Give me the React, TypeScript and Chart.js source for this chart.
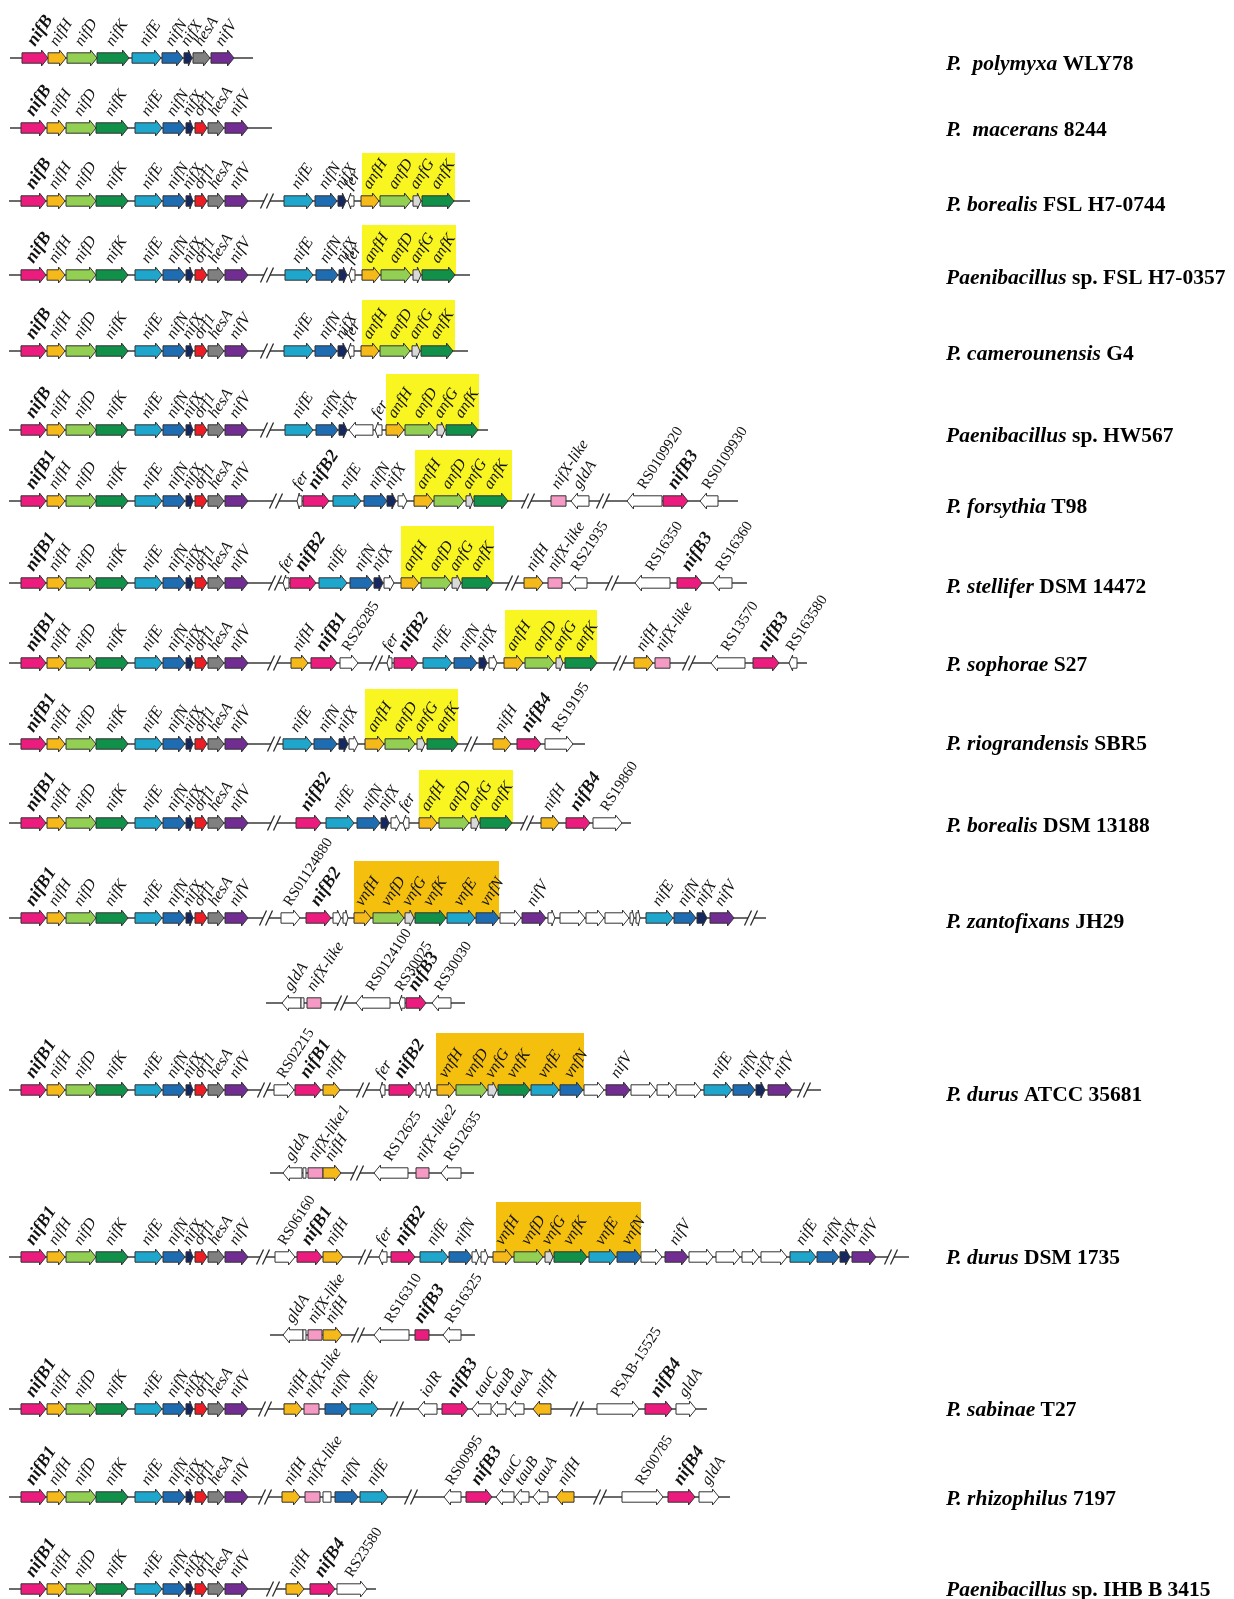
import React, { useEffect, useRef } from 'react';
import { Chart, registerables } from 'chart.js';

Chart.register(...registerables);

// [start, end, geneType, label, direction(1 right, -1 left, 0 box)]
type Gene = [number, number, string, string, number?];

const SERIF = '"Liberation Serif", "Times New Roman", serif';

const speciesNames = ['P.  polymyxa', 'P.  macerans', 'P. borealis', 'Paenibacillus', 'P. camerounensis', 'Paenibacillus', 'P. forsythia', 'P. stellifer', 'P. sophorae', 'P. riograndensis', 'P. borealis', 'P. zantofixans', 'P. durus', 'P. durus', 'P. sabinae', 'P. rhizophilus', 'Paenibacillus'];
const strainNames = [' WLY78', ' 8244', ' FSL H7-0744', ' sp. FSL H7-0357', ' G4', ' sp. HW567', ' T98', ' DSM 14472', ' S27', ' SBR5', ' DSM 13188', ' JH29', ' ATCC 35681', ' DSM 1735', ' T27', ' 7197', ' sp. IHB B 3415'];
const nameY = [64, 130, 205, 278, 354, 436, 507, 587, 665, 744, 826, 922, 1095, 1258, 1410, 1499, 1590];

const polymyxaGenes: Gene[] = [
  [22, 48, 'B', 'nifB'], [48, 66, 'H', 'nifH'], [67, 97, 'D', 'nifD'], [97, 129, 'K', 'nifK'],
  [132, 161, 'E', 'nifE'], [162, 183, 'N', 'nifN'], [184, 192, 'X', 'nifX'], [193, 210, 'A', 'hesA'], [211, 234, 'V', 'nifV'],
];
const coreGenes: Gene[] = [
  [21, 46, 'B', 'nifB'], [47, 65, 'H', 'nifH'], [66, 96, 'D', 'nifD'], [96, 128, 'K', 'nifK'],
  [135, 162, 'E', 'nifE'], [163, 185, 'N', 'nifN'], [186, 193, 'X', 'nifX'], [195, 207, 'O', 'orf1'],
  [208, 224, 'A', 'hesA'], [225, 248, 'V', 'nifV'],
];
const borealisFslGenes: Gene[] = [
  [284, 313, 'E', 'nifE'], [315, 337, 'N', 'nifN'], [338, 346, 'X', 'nifX'], [348, 354, 'W', 'fer', -1],
  [361, 379, 'H', 'anfH'], [380, 411, 'D', 'anfD'], [413, 421, 'G', 'anfG'], [422, 454, 'K', 'anfK'],
];
const fsl0357Genes: Gene[] = [
  [285, 313, 'E', 'nifE'], [316, 338, 'N', 'nifN'], [339, 347, 'X', 'nifX'], [349, 355, 'W', 'fer', -1],
  [362, 380, 'H', 'anfH'], [381, 411, 'D', 'anfD'], [413, 421, 'G', 'anfG'], [422, 455, 'K', 'anfK'],
];
const camerounGenes: Gene[] = [
  [284, 313, 'E', 'nifE'], [315, 337, 'N', 'nifN'], [338, 347, 'X', 'nifX'], [348, 354, 'W', 'fer', -1],
  [361, 379, 'H', 'anfH'], [380, 410, 'D', 'anfD'], [412, 420, 'G', 'anfG'], [421, 453, 'K', 'anfK'],
];
const hw567Genes: Gene[] = [
  [285, 313, 'E', 'nifE'], [316, 338, 'N', 'nifN'], [339, 347, 'X', 'nifX'], [349, 373, 'W', '', -1], [375, 382, 'W', 'fer', -1],
  [386, 404, 'H', 'anfH'], [405, 435, 'D', 'anfD'], [437, 445, 'G', 'anfG'], [446, 478, 'K', 'anfK'],
];
const forsythiaGenes: Gene[] = [
  [297, 302, 'W', 'fer', -1], [303, 329, 'B', 'nifB2'], [333, 361, 'E', 'nifE'], [364, 387, 'N', 'nifN'], [387, 396, 'X', 'nifX'], [398, 407, 'W', ''],
  [414, 433, 'H', 'anfH'], [434, 464, 'D', 'anfD'], [466, 473, 'G', 'anfG'], [474, 508, 'K', 'anfK'],
  [551, 566, 'L', 'nifX-like', 0], [571, 589, 'W', 'gldA', -1],
  [627, 662, 'W', 'RS0109920', -1], [663, 688, 'B', 'nifB3'], [700, 718, 'W', 'RS0109930', -1],
];
const stelliferGenes: Gene[] = [
  [283, 289, 'W', 'fer', -1], [290, 316, 'B', 'nifB2'], [319, 347, 'E', 'nifE'], [350, 373, 'N', 'nifN'], [374, 383, 'X', 'nifX'], [384, 394, 'W', ''],
  [401, 419, 'H', 'anfH'], [421, 451, 'D', 'anfD'], [452, 461, 'G', 'anfG'], [462, 493, 'K', 'anfK'],
  [524, 543, 'H', 'nifH'], [548, 562, 'L', 'nifX-like', 0], [569, 587, 'W', 'RS21935', -1],
  [635, 670, 'W', 'RS16350', -1], [677, 702, 'B', 'nifB3'], [713, 732, 'W', 'RS16360', -1],
];
const sophoraeGenes: Gene[] = [
  [291, 308, 'H', 'nifH'], [311, 337, 'B', 'nifB1'], [340, 358, 'W', 'RS26285'],
  [387, 392, 'W', 'fer', -1], [394, 418, 'B', 'nifB2'], [423, 452, 'E', 'nifE'], [454, 477, 'N', 'nifN'], [479, 487, 'X', 'nifX'], [489, 497, 'W', ''],
  [504, 523, 'H', 'anfH'], [525, 554, 'D', 'anfD'], [556, 563, 'G', 'anfG'], [565, 597, 'K', 'anfK'],
  [634, 653, 'H', 'nifH'], [655, 670, 'L', 'nifX-like', 0],
  [711, 745, 'W', 'RS13570', -1], [753, 779, 'B', 'nifB3'], [789, 797, 'W', 'RS163580', -1],
];
const riograndensisGenes: Gene[] = [
  [283, 312, 'E', 'nifE'], [314, 337, 'N', 'nifN'], [339, 348, 'X', 'nifX'], [349, 358, 'W', ''],
  [365, 384, 'H', 'anfH'], [385, 415, 'D', 'anfD'], [417, 425, 'G', 'anfG'], [427, 458, 'K', 'anfK'],
  [493, 511, 'H', 'nifH'], [517, 541, 'B', 'nifB4'], [545, 573, 'W', 'RS19195'],
];
const borealisDsmGenes: Gene[] = [
  [296, 321, 'B', 'nifB2'], [326, 354, 'E', 'nifE'], [357, 380, 'N', 'nifN'], [381, 389, 'X', 'nifX'], [391, 400, 'W', ''], [403, 409, 'W', 'fer', -1],
  [419, 437, 'H', 'anfH'], [439, 469, 'D', 'anfD'], [471, 479, 'G', 'anfG'], [480, 512, 'K', 'anfK'],
  [541, 559, 'H', 'nifH'], [566, 590, 'B', 'nifB4'], [593, 622, 'W', 'RS19860'],
];
const zantofixansGenes: Gene[] = [
  [281, 300, 'W', 'RS01124880'], [306, 331, 'B', 'nifB2'], [333, 341, 'W', ''], [343, 348, 'W', ''],
  [354, 371, 'H', 'vnfH'], [373, 404, 'D', 'vnfD'], [405, 414, 'G', 'vnfG'], [415, 446, 'K', 'vnfK'], [447, 475, 'E', 'vnfE'], [476, 499, 'N', 'vnfN'],
  [500, 521, 'W', ''], [522, 546, 'V', 'nifV'], [548, 555, 'W', ''], [560, 585, 'W', ''], [586, 604, 'W', ''], [605, 629, 'W', ''], [630, 634, 'W', ''], [636, 640, 'W', ''],
  [646, 673, 'E', 'nifE'], [674, 696, 'N', 'nifN'], [697, 707, 'X', 'nifX'], [710, 734, 'V', 'nifV'],
];
const zantofixansExtraGenes: Gene[] = [
  [282, 301, 'W', 'gldA', -1], [301, 304, 'W', '', 0], [307, 321, 'L', 'nifX-like', 0],
  [356, 390, 'W', 'RS0124100', -1], [399, 405, 'W', 'RS30025', -1], [406, 426, 'B', 'nifB3'], [432, 451, 'W', 'RS30030', -1],
];
const durusAtccGenes: Gene[] = [
  [274, 294, 'W', 'RS02215'], [295, 321, 'B', 'nifB1'], [323, 340, 'H', 'nifH'],
  [380, 385, 'W', 'fer', -1], [389, 415, 'B', 'nifB2'], [416, 423, 'W', ''], [426, 431, 'W', ''],
  [437, 455, 'H', 'vnfH'], [456, 487, 'D', 'vnfD'], [488, 497, 'G', 'vnfG'], [498, 530, 'K', 'vnfK'], [531, 559, 'E', 'vnfE'], [560, 583, 'N', 'vnfN'],
  [584, 604, 'W', ''], [606, 630, 'V', 'nifV'], [631, 656, 'W', ''], [657, 675, 'W', ''], [676, 701, 'W', ''],
  [704, 732, 'E', 'nifE'], [733, 755, 'N', 'nifN'], [756, 765, 'X', 'nifX'], [768, 792, 'V', 'nifV'],
];
const durusAtccExtraGenes: Gene[] = [
  [283, 302, 'W', 'gldA', -1], [303, 306, 'W', '', 0], [308, 323, 'L', 'nifX-like1', 0], [323, 341, 'H', 'nifH'],
  [374, 408, 'W', 'RS12625', -1], [416, 429, 'L', 'nifX-like2', 0], [441, 461, 'W', 'RS12635', -1],
];
const durusDsmGenes: Gene[] = [
  [275, 295, 'W', 'RS06160'], [297, 322, 'B', 'nifB1'], [323, 343, 'H', 'nifH'],
  [379, 387, 'W', 'fer', -1], [391, 415, 'B', 'nifB2'], [420, 448, 'E', 'nifE'], [449, 472, 'N', 'nifN'], [472, 479, 'W', ''], [481, 488, 'W', ''],
  [493, 512, 'H', 'vnfH'], [514, 543, 'D', 'vnfD'], [545, 553, 'G', 'vnfG'], [554, 587, 'K', 'vnfK'], [589, 616, 'E', 'vnfE'], [617, 641, 'N', 'vnfN'],
  [641, 662, 'W', ''], [665, 688, 'V', 'nifV'], [689, 713, 'W', ''], [716, 740, 'W', ''], [742, 759, 'W', ''], [761, 787, 'W', ''],
  [790, 816, 'E', 'nifE'], [817, 839, 'N', 'nifN'], [840, 850, 'X', 'nifX'], [852, 876, 'V', 'nifV'],
];
const durusDsmExtraGenes: Gene[] = [
  [283, 303, 'W', 'gldA', -1], [303, 306, 'W', '', 0], [308, 322, 'L', 'nifX-like', 0], [323, 342, 'H', 'nifH'],
  [374, 409, 'W', 'RS16310', -1], [415, 429, 'B', 'nifB3', 0], [443, 461, 'W', 'RS16325', -1],
];
const sabinaeGenes: Gene[] = [
  [284, 302, 'H', 'nifH'], [304, 319, 'L', 'nifX-like', 0], [325, 348, 'N', 'nifN'], [350, 378, 'E', 'nifE'],
  [418, 437, 'W', 'iolR', -1], [442, 468, 'B', 'nifB3'], [472, 491, 'W', 'tauC', -1], [491, 506, 'W', 'tauB', -1], [509, 524, 'W', 'tauA', -1], [533, 551, 'H', 'nifH', -1],
  [597, 639, 'W', 'PSAB-15525'], [645, 672, 'B', 'nifB4'], [676, 696, 'W', 'gldA'],
];
const rhizophilusGenes: Gene[] = [
  [282, 300, 'H', 'nifH'], [305, 320, 'L', 'nifX-like', 0], [323, 331, 'W', '', 0], [335, 358, 'N', 'nifN'], [360, 388, 'E', 'nifE'],
  [444, 461, 'W', 'RS00995', -1], [466, 492, 'B', 'nifB3'], [496, 514, 'W', 'tauC', -1], [515, 529, 'W', 'tauB', -1], [533, 548, 'W', 'tauA', -1], [556, 574, 'H', 'nifH', -1],
  [622, 663, 'W', 'RS00785'], [668, 695, 'B', 'nifB4'], [699, 719, 'W', 'gldA'],
];
const ihbGenes: Gene[] = [
  [286, 304, 'H', 'nifH'], [310, 335, 'B', 'nifB4'], [337, 367, 'W', 'RS23580'],
];

const withCore = (first: string, extra: Gene[]): Gene[] => [
  [coreGenes[0][0], coreGenes[0][1], 'B', first], ...coreGenes.slice(1), ...extra,
];

const trackGenes: Gene[][] = [
  polymyxaGenes, withCore('nifB', []), withCore('nifB', borealisFslGenes), withCore('nifB', fsl0357Genes),
  withCore('nifB', camerounGenes), withCore('nifB', hw567Genes), withCore('nifB1', forsythiaGenes),
  withCore('nifB1', stelliferGenes), withCore('nifB1', sophoraeGenes), withCore('nifB1', riograndensisGenes),
  withCore('nifB1', borealisDsmGenes), withCore('nifB1', zantofixansGenes), zantofixansExtraGenes,
  withCore('nifB1', durusAtccGenes), durusAtccExtraGenes, withCore('nifB1', durusDsmGenes), durusDsmExtraGenes,
  withCore('nifB1', sabinaeGenes), withCore('nifB1', rhizophilusGenes), withCore('nifB1', ihbGenes),
];
const trackY = [58, 128, 201, 275, 351, 430, 501, 583, 663, 744, 823, 918, 1003, 1090, 1173, 1257, 1335, 1409, 1497, 1589];
const trackStart = [10, 10, 9, 9, 9, 9, 9, 9, 9, 9, 9, 9, 266, 9, 270, 9, 270, 9, 9, 9];
const trackEnd = [253, 272, 470, 470, 468, 488, 738, 747, 807, 585, 631, 766, 465, 821, 474, 909, 475, 707, 730, 376];
const trackBreaks: number[][] = [
  [], [], [267], [267], [267], [267], [276, 528, 603], [275, 512, 612], [274, 376, 620, 689], [274, 471],
  [274, 527], [266, 751], [341], [264, 363, 804], [357], [263, 365, 891], [358], [265, 397, 577], [265, 411, 600], [273],
];
// [track, from, to, top, kind]  kind: 'anf' yellow, 'vnf' orange
const highlightBoxes: [number, number, number, number, string][] = [
  [2, 362, 455, 153, 'anf'], [3, 362, 456, 225, 'anf'], [4, 362, 455, 300, 'anf'], [5, 386, 479, 374, 'anf'],
  [6, 415, 512, 450, 'anf'], [7, 401, 494, 526, 'anf'], [8, 505, 597, 610, 'anf'], [9, 365, 458, 689, 'anf'],
  [10, 419, 513, 770, 'anf'], [11, 354, 499, 861, 'vnf'], [13, 436, 584, 1033, 'vnf'], [15, 496, 641, 1202, 'vnf'],
];

const GENE_COLORS: Record<string, string> = {
  B: '#ec1c7e', H: '#f6b91a', D: '#93cf52', K: '#11904a', E: '#1fa6cc', N: '#1e6db2', X: '#15285f',
  O: '#ee1c24', A: '#808080', V: '#712d91', G: '#d9d9d9', L: '#f59ac4', W: '#ffffff',
};
const BOX_COLORS: Record<string, string> = { anf: '#f8f520', vnf: '#f5bf0e' };

const genePlugin = {
  id: 'geneClusters',
  afterDraw(chart: any) {
    const ctx: CanvasRenderingContext2D = chart.ctx;
    const xs = chart.scales.x;
    const ys = chart.scales.y;
    const px = (v: number) => xs.getPixelForValue(v);
    const py = (v: number) => ys.getPixelForValue(v);
    ctx.save();

    // highlight boxes
    highlightBoxes.forEach(([t, a, b, top, kind]) => {
      ctx.fillStyle = BOX_COLORS[kind];
      const x1 = px(a), x2 = px(b), y1 = py(top), y2 = py(trackY[t]);
      ctx.fillRect(x1, y1, x2 - x1, y2 - y1);
    });

    trackGenes.forEach((genes, t) => {
      const y = py(trackY[t]);
      // backbone
      ctx.strokeStyle = '#3a3a3a';
      ctx.lineWidth = 1.5;
      ctx.beginPath();
      ctx.moveTo(px(trackStart[t]), y);
      ctx.lineTo(px(trackEnd[t]), y);
      ctx.stroke();
      // breaks
      trackBreaks[t].forEach((b) => {
        const bx = px(b);
        ctx.fillStyle = '#ffffff';
        ctx.fillRect(bx - 3, y - 1.5, 6, 3);
        ctx.strokeStyle = '#2a2a2a';
        ctx.lineWidth = 1.3;
        [-3, 3].forEach((o) => {
          ctx.beginPath();
          ctx.moveTo(bx + o - 3.5, y + 7.5);
          ctx.lineTo(bx + o + 3.5, y - 7.5);
          ctx.stroke();
        });
      });
      // genes
      genes.forEach(([a, b, type, , d]) => {
        const dir = d === undefined ? 1 : d;
        const x1 = px(a), x2 = px(b);
        const len = x2 - x1;
        const bh = 5.2, hh = 8;
        const hl = Math.min(6.5, len * 0.45);
        ctx.beginPath();
        if (dir === 1) {
          ctx.moveTo(x1, y - bh); ctx.lineTo(x2 - hl, y - bh); ctx.lineTo(x2 - hl, y - hh); ctx.lineTo(x2, y);
          ctx.lineTo(x2 - hl, y + hh); ctx.lineTo(x2 - hl, y + bh); ctx.lineTo(x1, y + bh);
        } else if (dir === -1) {
          ctx.moveTo(x2, y - bh); ctx.lineTo(x1 + hl, y - bh); ctx.lineTo(x1 + hl, y - hh); ctx.lineTo(x1, y);
          ctx.lineTo(x1 + hl, y + hh); ctx.lineTo(x1 + hl, y + bh); ctx.lineTo(x2, y + bh);
        } else {
          ctx.rect(x1, y - bh, len, bh * 2);
        }
        ctx.closePath();
        ctx.fillStyle = GENE_COLORS[type];
        ctx.fill();
        ctx.strokeStyle = '#333333';
        ctx.lineWidth = 1;
        ctx.stroke();
      });
      // labels
      genes.forEach(([a, b, , label]) => {
        if (!label) return;
        const cx = px((a + b) / 2);
        ctx.save();
        ctx.translate(cx, y - 11);
        ctx.rotate((-57 * Math.PI) / 180);
        if (/^nifB/.test(label)) ctx.font = `italic bold 18px ${SERIF}`;
        else if (/^(RS|PSAB)/.test(label)) ctx.font = `15px ${SERIF}`;
        else ctx.font = `italic 16px ${SERIF}`;
        ctx.fillStyle = '#111111';
        ctx.textAlign = 'left';
        ctx.textBaseline = 'alphabetic';
        ctx.fillText(label, 0, 0);
        ctx.restore();
      });
    });

    // organism names
    speciesNames.forEach((sp, i) => {
      const x = px(946);
      const y = py(nameY[i]);
      ctx.fillStyle = '#000000';
      ctx.textBaseline = 'middle';
      ctx.textAlign = 'left';
      ctx.font = `italic bold 21.5px ${SERIF}`;
      ctx.fillText(sp, x, y);
      const w = ctx.measureText(sp).width;
      ctx.font = `bold 21.5px ${SERIF}`;
      ctx.fillText(strainNames[i], x + w, y);
    });
    ctx.restore();
  },
};

export default function App() {
  const ref = useRef<HTMLCanvasElement>(null);
  useEffect(() => {
    if (!ref.current) return;
    const chart = new Chart(ref.current, {
      type: 'scatter',
      data: { datasets: [] },
      options: {
        responsive: false,
        animation: false,
        devicePixelRatio: 1,
        events: [],
        layout: { padding: 0 },
        plugins: { legend: { display: false }, tooltip: { enabled: false }, title: { display: false } },
        scales: {
          x: { type: 'linear', min: 0, max: 1234, display: false },
          y: { type: 'linear', min: 0, max: 1599, reverse: true, display: false },
        },
      },
      plugins: [genePlugin],
    } as any);
    return () => chart.destroy();
  }, []);
  return (
    <div style={{ position: 'absolute', left: 0, top: 0, width: 1234, height: 1599, background: '#ffffff', overflow: 'hidden' }}>
      <canvas ref={ref} width={1234} height={1599} style={{ width: 1234, height: 1599, display: 'block' }} />
    </div>
  );
}
